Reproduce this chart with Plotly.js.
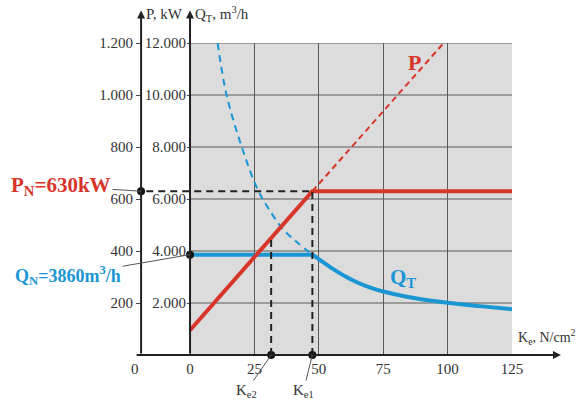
<!DOCTYPE html>
<html>
<head>
<meta charset="utf-8">
<script src="https://cdn.plot.ly/plotly-3.0.1.min.js"></script>
<style>
  html, body { margin: 0; padding: 0; background: #fff; }
  #chart { width: 576px; height: 403px; }
</style>
</head>
<body>
<div id="chart"></div>
<script>
// Operating characteristic: drive power P and throughput Q_T against cutting resistance K_e

// Axis ticks
const xTicks = [0, 25, 50, 75, 100, 125];
const xTickText = ['0', '25', '50', '75', '100', '125'];
const qTicks = [2000, 4000, 6000, 8000, 10000, 12000];
const qTickText = ['2.000', '4.000', '6.000', '8.000', '10.000', '12.000'];
const pTicks = [200, 400, 600, 800, 1000, 1200];
const pTickText = ['200', '400', '600', '800', '1.000', '1.200'];

// Rated point and characteristic cutting resistances
const pRated = 630;      // kW
const qRated = 3860;     // m3/h
const keRated = 47.5;    // Ke1, N/cm2
const keLow = 31.5;      // Ke2, N/cm2
const pAtKeLow = 450;    // kW on the power line at Ke2

// Power P (kW): rising section, then capped at rated power
const pKe = [0, 47.5, 125];
const pKw = [95, 630, 630];
// Uncapped continuation of the power line
const pExtKe = [47.5, 98.5];
const pExtKw = [630, 1200];

// Throughput Q_T (m3/h)
const qFlatKe = [0, 47.5];
const qFlatM3h = [3860, 3860];
const qCurveKe = [47.5, 50, 55, 60, 65, 70, 75, 87.5, 100, 112.5, 125];
const qCurveM3h = [3860, 3690, 3340, 3040, 2790, 2590, 2440, 2180, 2010, 1880, 1760];
// Throughput at constant rated power below Ke1
const qExtKe = [10.7, 14.2, 20.1, 26.1, 31, 36, 42, 47.5];
const qExtM3h = [12000, 10000, 8000, 6400, 5550, 4850, 4300, 3860];

// Styling
const RED = '#d8352a';
const BLUE = '#1a96d4';
const INK = '#222';
const TEXT = '#333';
const SERIF = 'Liberation Serif, Times New Roman, serif';

// Horizontal layout: the P axis sits left of the shaded field
const xMin = -23.3, xMax = 125;
const pAxisX = -19;
const posP = (pAxisX - xMin) / (xMax - xMin);
const posQ = (0 - xMin) / (xMax - xMin);
const yTop = 13250;   // arrow tips of the vertical axes
const xRight = 144;   // arrow tip of the horizontal axis
const xLeft = -21.3;

const traces = [
  { x: pExtKe, y: pExtKw, yaxis: 'y2', mode: 'lines',
    line: { color: RED, width: 2, dash: '6px,4px' }, hoverinfo: 'skip' },
  { x: qExtKe, y: qExtM3h, mode: 'lines',
    line: { color: BLUE, width: 2, dash: '7px,5px', shape: 'spline' }, hoverinfo: 'skip' },
  { x: qFlatKe, y: qFlatM3h, mode: 'lines',
    line: { color: BLUE, width: 4 }, hoverinfo: 'skip' },
  { x: qCurveKe, y: qCurveM3h, mode: 'lines',
    line: { color: BLUE, width: 4, shape: 'spline', smoothing: 1 }, hoverinfo: 'skip' },
  { x: pKe, y: pKw, yaxis: 'y2', mode: 'lines',
    line: { color: RED, width: 4 }, hoverinfo: 'skip' },
  // marker dots on the axes
  { x: [pAxisX], y: [pRated], yaxis: 'y2', mode: 'markers', cliponaxis: false,
    marker: { color: '#111', size: 8 }, hoverinfo: 'skip' },
  { x: [0], y: [qRated], mode: 'markers', cliponaxis: false,
    marker: { color: '#111', size: 8 }, hoverinfo: 'skip' },
  { x: [keLow, keRated], y: [0, 0], mode: 'markers', cliponaxis: false,
    marker: { color: '#111', size: 8 }, hoverinfo: 'skip' }
];

const shapes = [
  // shaded field
  { type: 'rect', layer: 'below', xref: 'x', yref: 'y', x0: 0, x1: xTicks[xTicks.length - 1],
    y0: 0, y1: qTicks[qTicks.length - 1], fillcolor: '#dcdcdc', line: { width: 0 } }
];
// horizontal grid lines across the shaded field only
qTicks.forEach(q => shapes.push({
  type: 'line', layer: 'below', xref: 'x', yref: 'y', x0: 0, x1: xTicks[xTicks.length - 1],
  y0: q, y1: q, line: { color: '#5a5a5a', width: 1 }
}));
// guide lines to the rated point and to Ke2
const guide = { color: INK, width: 2, dash: '7px,5px' };
shapes.push(
  { type: 'line', xref: 'x', yref: 'y2', x0: pAxisX + 2, x1: keRated, y0: pRated, y1: pRated, line: guide },
  { type: 'line', xref: 'x', yref: 'y2', x0: keRated, x1: keRated, y0: 0, y1: pRated, line: guide },
  { type: 'line', xref: 'x', yref: 'y2', x0: keLow, x1: keLow, y0: 0, y1: pAtKeLow, line: guide }
);

const axisArrow = (x, y, ax, ay) => ({
  xref: 'x', yref: 'y', axref: 'x', ayref: 'y', x: x, y: y, ax: ax, ay: ay,
  text: '', showarrow: true, arrowhead: 2, arrowsize: 0.8, arrowwidth: 2, arrowcolor: INK
});

const titleFont = { family: SERIF, size: 15, color: TEXT };

const annotations = [
  axisArrow(xRight, 0, xLeft, 0),
  axisArrow(pAxisX, yTop, pAxisX, 0),
  axisArrow(0, yTop, 0, 0),
  // axis titles
  { xref: 'x', yref: 'paper', x: pAxisX, y: 1.093, xanchor: 'left', yanchor: 'middle', xshift: 3,
    text: 'P, kW', showarrow: false, font: titleFont },
  { xref: 'x', yref: 'paper', x: 0, y: 1.093, xanchor: 'left', yanchor: 'middle', xshift: 3,
    text: 'Q<sub>T</sub>, m<sup>3</sup>/h', showarrow: false, font: titleFont },
  { xref: 'paper', yref: 'paper', x: 1.0105, y: 0.058, xanchor: 'left', yanchor: 'middle',
    text: 'K<sub>e</sub>, N/cm<sup>2</sup>', showarrow: false,
    font: { family: SERIF, size: 14, color: TEXT } },
  // zero under the P axis
  { xref: 'x', yref: 'y', x: pAxisX, y: 0, xanchor: 'center', yanchor: 'top', xshift: -6, yshift: -4,
    text: '0', showarrow: false, font: titleFont },
  // curve labels
  { xref: 'x', yref: 'y2', x: 87, y: 1125, text: '<b>P</b>', showarrow: false,
    font: { family: SERIF, size: 22, color: RED } },
  { xref: 'x', yref: 'y', x: 82.7, y: 2960, text: '<b>Q<sub>T</sub></b>', showarrow: false,
    font: { family: SERIF, size: 21, color: BLUE } },
  // rated values with leader lines
  { xref: 'x', yref: 'y2', x: pAxisX, y: pRated, ax: -80, ay: -5,
    text: '<b>P<sub>N</sub>=' + pRated + 'kW</b>', showarrow: true, arrowhead: 0, arrowwidth: 1,
    arrowcolor: '#555', font: { family: SERIF, size: 21, color: RED } },
  { xref: 'x', yref: 'y', x: 0, y: qRated, ax: -122, ay: 21,
    text: '<b>Q<sub>N</sub>=' + qRated + 'm<sup>3</sup>/h</b>', showarrow: true, arrowhead: 0, arrowwidth: 1,
    arrowcolor: '#555', font: { family: SERIF, size: 18, color: BLUE } },
  { xref: 'x', yref: 'y', x: keLow, y: 0, ax: -25, ay: 36,
    text: 'K<sub>e2</sub>', showarrow: true, arrowhead: 0, arrowwidth: 1,
    arrowcolor: '#555', font: titleFont },
  { xref: 'x', yref: 'y', x: keRated, y: 0, ax: -9, ay: 36,
    text: 'K<sub>e1</sub>', showarrow: true, arrowhead: 0, arrowwidth: 1,
    arrowcolor: '#555', font: titleFont }
];

const tickFont = { family: SERIF, size: 15, color: TEXT };

const layout = {
  width: 576, height: 403,
  margin: { l: 130, r: 64, t: 43, b: 48 },
  paper_bgcolor: '#ffffff', plot_bgcolor: '#ffffff',
  showlegend: false,
  font: { family: SERIF, color: TEXT },
  xaxis: {
    range: [xMin, xMax], tickvals: xTicks, ticktext: xTickText, tickfont: tickFont,
    showgrid: true, gridcolor: '#5a5a5a', gridwidth: 1, zeroline: false, showline: false,
    ticks: '', ticklabelstandoff: 3, fixedrange: true
  },
  yaxis: {
    range: [0, 12000], tickvals: qTicks, ticktext: qTickText, tickfont: tickFont,
    anchor: 'free', position: posQ, side: 'left',
    showgrid: false, zeroline: false, showline: false,
    ticks: 'outside', ticklen: 3, tickwidth: 1, tickcolor: '#444', ticklabelstandoff: -2,
    fixedrange: true
  },
  yaxis2: {
    range: [0, 1200], tickvals: pTicks, ticktext: pTickText, tickfont: tickFont,
    overlaying: 'y', anchor: 'free', position: posP, side: 'left',
    showgrid: false, zeroline: false, showline: false,
    ticks: 'outside', ticklen: 5, tickwidth: 1, tickcolor: '#444', fixedrange: true
  },
  shapes: shapes,
  annotations: annotations
};

Plotly.newPlot('chart', traces, layout, { displayModeBar: false, staticPlot: true });
</script>
</body>
</html>
